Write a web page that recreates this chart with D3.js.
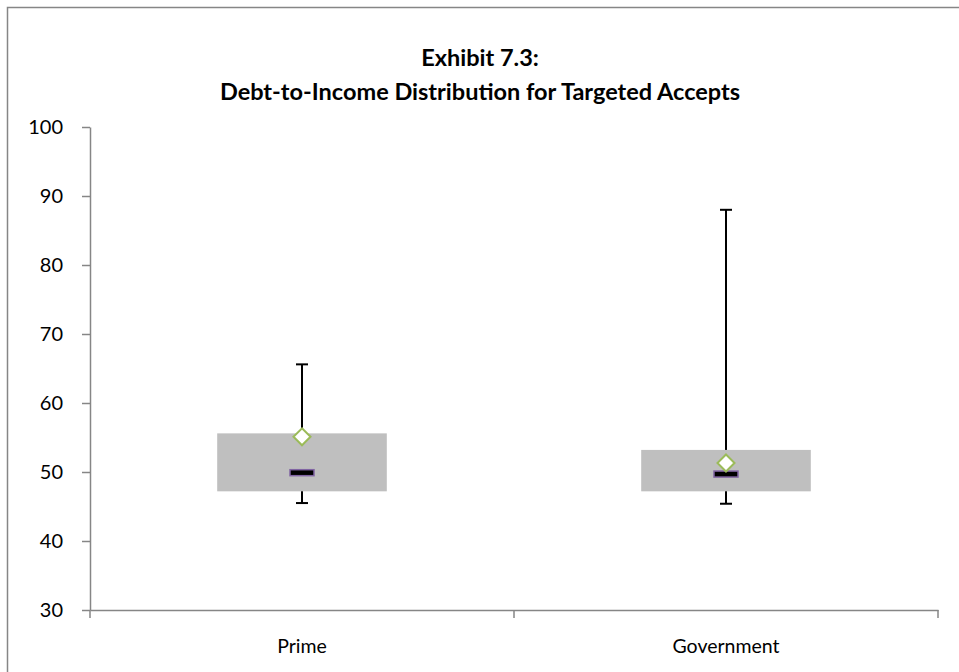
<!DOCTYPE html>
<html><head><meta charset="utf-8">
<script src="https://cdn.jsdelivr.net/npm/d3@7"></script>
<style>
html,body{margin:0;padding:0;background:#fff;}
svg{display:block;}
text{font-family:Lato, "Open Sans", sans-serif;}
</style></head>
<body><svg id="c" width="959" height="672"></svg>
<script>
const categories = ["Prime", "Government"];
const whiskerMax = [65.6, 88.0];
const q3 = [55.6, 53.2];
const median = [49.9, 49.7];
const q1 = [47.2, 47.2];
const whiskerMin = [45.5, 45.4];
const mean = [55.1, 51.3];
const yTicks = [30, 40, 50, 60, 70, 80, 90, 100];
const titleLines = ["Exhibit 7.3:", "Debt-to-Income Distribution for Targeted Accepts"];

const data = categories.map((c, i) => ({cat: c, max: whiskerMax[i], q3: q3[i], med: median[i], q1: q1[i], min: whiskerMin[i], mean: mean[i]}));

const svg = d3.select("#c");
svg.append("rect").attr("x", 7.5).attr("y", 7.5).attr("width", 1000).attr("height", 1000)
  .attr("fill", "#fff").attr("stroke", "#868686").attr("stroke-width", 1.5);

const x = d3.scaleBand().domain(categories).range([90, 938]).paddingInner(0).paddingOuter(0);
const y = d3.scaleLinear().domain([30, 100]).range([610, 127]);

// title
svg.append("g").selectAll("text").data(titleLines).join("text")
  .attr("x", 480).attr("y", (d, i) => 66 + i * 34)
  .attr("text-anchor", "middle").attr("font-weight", "bold").attr("font-size", 23.5)
  .attr("fill", "#000").text(d => d);

// y axis
const yAxis = svg.append("g").attr("transform", "translate(90,0)")
  .call(d3.axisLeft(y).tickValues(yTicks).tickSize(8).tickPadding(19).tickSizeOuter(0));
yAxis.select(".domain").attr("stroke", "#868686").attr("stroke-width", 1.5);
yAxis.selectAll(".tick line").attr("stroke", "#868686").attr("stroke-width", 1.5);
yAxis.selectAll(".tick text").attr("font-size", 20).attr("fill", "#000").attr("font-family", "Lato, sans-serif");

// x axis
const xAxis = svg.append("g").attr("transform", "translate(0,610)")
  .call(d3.axisBottom(x).tickSize(0).tickPadding(29));
xAxis.select(".domain").attr("stroke", "#868686").attr("stroke-width", 1.5);
xAxis.selectAll(".tick text").attr("font-size", 19.5).attr("fill", "#000").attr("font-family", "Lato, sans-serif");
// x tick marks at band boundaries
const bounds = [x.range()[0], ...categories.map(c => x(c) + x.bandwidth())];
xAxis.selectAll(".bnd").data(bounds).join("line").attr("class", "bnd")
  .attr("x1", d => d).attr("x2", d => d).attr("y1", 0).attr("y2", 8)
  .attr("stroke", "#868686").attr("stroke-width", 1.5);

const cx = d => x(d.cat) + x.bandwidth() / 2;
const boxW = x.bandwidth() * 0.4;
const g = svg.append("g");
// whiskers
g.selectAll(".wl").data(data).join("line").attr("class", "wl")
  .attr("x1", cx).attr("x2", cx).attr("y1", d => y(d.max)).attr("y2", d => y(d.min))
  .attr("stroke", "#000").attr("stroke-width", 2);
g.selectAll(".capT").data(data).join("line").attr("class", "capT")
  .attr("x1", d => cx(d) - 6).attr("x2", d => cx(d) + 6).attr("y1", d => y(d.max)).attr("y2", d => y(d.max))
  .attr("stroke", "#000").attr("stroke-width", 2);
g.selectAll(".capB").data(data).join("line").attr("class", "capB")
  .attr("x1", d => cx(d) - 6).attr("x2", d => cx(d) + 6).attr("y1", d => y(d.min)).attr("y2", d => y(d.min))
  .attr("stroke", "#000").attr("stroke-width", 2);
// boxes
g.selectAll(".box").data(data).join("rect").attr("class", "box")
  .attr("x", d => cx(d) - boxW / 2).attr("width", boxW)
  .attr("y", d => y(d.q3)).attr("height", d => y(d.q1) - y(d.q3))
  .attr("fill", "#BFBFBF");
// median markers
g.selectAll(".med").data(data).join("rect").attr("class", "med")
  .attr("x", d => cx(d) - 12).attr("width", 24)
  .attr("y", d => y(d.med) - 3).attr("height", 6)
  .attr("fill", "#000").attr("stroke", "#8064A2").attr("stroke-width", 1.5);
// mean diamonds
g.selectAll(".mean").data(data).join("path").attr("class", "mean")
  .attr("transform", d => `translate(${cx(d)},${y(d.mean)})`)
  .attr("d", "M0,-8.5L8.5,0L0,8.5L-8.5,0Z")
  .attr("fill", "#fff").attr("stroke", "#9BBB59").attr("stroke-width", 2);
</script></body></html>
